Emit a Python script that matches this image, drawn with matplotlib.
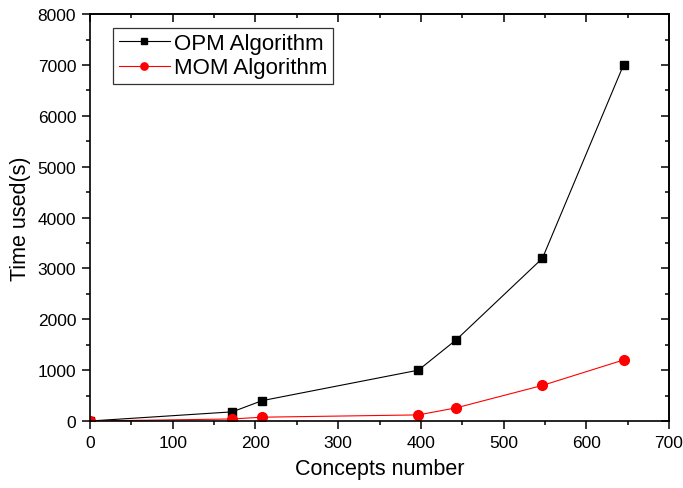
import matplotlib
matplotlib.use("Agg")
import matplotlib.pyplot as plt
from matplotlib.ticker import MultipleLocator

plt.rcParams["font.family"] = ["Liberation Sans", "DejaVu Sans"]

concepts = [0, 172, 208, 397, 443, 547, 645]
opm_time = [0, 180, 400, 1000, 1600, 3200, 7000]
mom_time = [0, 40, 75, 120, 260, 700, 1200]

fig = plt.figure(figsize=(6.83, 4.89), dpi=100)
ax = fig.add_axes([0.1318, 0.137, 0.8477, 0.832])

ax.plot(concepts, opm_time, color="black", lw=0.8, marker="s", ms=6.3, label="OPM Algorithm")
ax.plot(concepts, mom_time, color="red", lw=0.8, marker="o", ms=7, label="MOM Algorithm")

ax.set_xlim(0, 700)
ax.set_ylim(0, 8000)
ax.xaxis.set_major_locator(MultipleLocator(100))
ax.xaxis.set_minor_locator(MultipleLocator(50))
ax.yaxis.set_major_locator(MultipleLocator(1000))
ax.yaxis.set_minor_locator(MultipleLocator(500))
ax.tick_params(which="both", direction="out", labelsize=12.5, width=1.1, pad=4)
ax.tick_params(which="major", length=6)
ax.tick_params(which="minor", length=3)
for s in ax.spines.values():
    s.set_linewidth(1.2)

# top and right ticks point inward, no labels
top = ax.secondary_xaxis("top")
top.xaxis.set_major_locator(MultipleLocator(100))
top.xaxis.set_minor_locator(MultipleLocator(50))
top.tick_params(which="both", direction="in", labeltop=False, width=1.1)
top.tick_params(which="major", length=6)
top.tick_params(which="minor", length=3)
right = ax.secondary_yaxis("right")
right.yaxis.set_major_locator(MultipleLocator(1000))
right.yaxis.set_minor_locator(MultipleLocator(500))
right.tick_params(which="both", direction="in", labelright=False, width=1.1)
right.tick_params(which="major", length=6)
right.tick_params(which="minor", length=3)
for sec in (top, right):
    for s in sec.spines.values():
        s.set_linewidth(1.2)

ax.set_xlabel("Concepts number", fontsize=15.5, labelpad=6)
ax.set_ylabel("Time used(s)", fontsize=15.5, labelpad=5)

leg = ax.legend(loc="upper left", bbox_to_anchor=(0.04, 0.967), fontsize=16, fancybox=False,
                edgecolor="black", handlelength=2.3, markerscale=0.75, borderpad=0.25,
                labelspacing=0.15, handletextpad=0.2, borderaxespad=0)
leg.get_frame().set_linewidth(0.9)

fig.savefig("out.png", dpi=100)
